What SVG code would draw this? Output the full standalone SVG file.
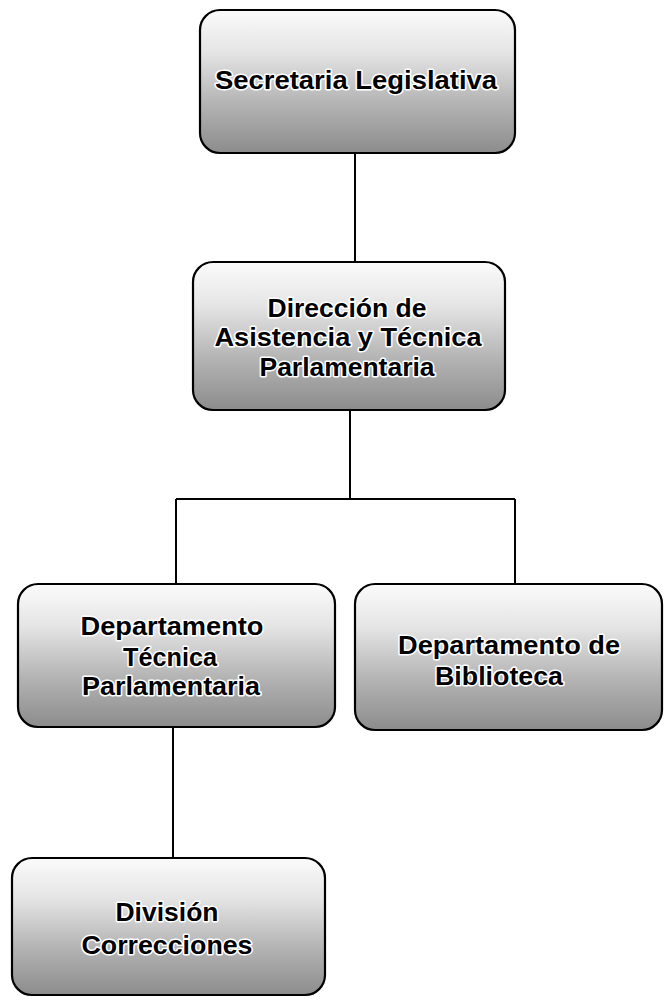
<svg xmlns="http://www.w3.org/2000/svg" width="664" height="1003" viewBox="0 0 664 1003">
<style>
.box{fill:url(#g);stroke:#000;stroke-width:2.2}
.t{font-family:"Liberation Sans",Arial,sans-serif;font-weight:bold;font-size:25px;fill:#000;text-anchor:middle;stroke:#fff;stroke-width:3;paint-order:stroke;stroke-linejoin:round}
.c{fill:none;stroke:#000;stroke-width:2}
</style>
<defs>
<linearGradient id="g" x1="0" y1="0" x2="0" y2="1">
<stop offset="0" stop-color="#fbfbfb"/>
<stop offset="0.3" stop-color="#e4e4e4"/>
<stop offset="0.65" stop-color="#b4b4b4"/>
<stop offset="1" stop-color="#8c8c8c"/>
</linearGradient>
</defs>
<rect width="664" height="1003" fill="#fff"/>
<g id="connectors">
<path class="c" d="M355 153V263"/>
<path class="c" d="M350 410V499"/>
<path class="c" d="M176 499H515"/>
<path class="c" d="M176 499V584"/>
<path class="c" d="M515 499V584"/>
<path class="c" d="M173 727V858"/>
</g>
<g id="secretaria">
<rect class="box" x="200" y="10" width="315" height="143" rx="20"/>
<text class="t" x="356" y="89" textLength="282" lengthAdjust="spacingAndGlyphs">Secretaria Legislativa</text>
</g>
<g id="direccion">
<rect class="box" x="193" y="262" width="312" height="148" rx="20"/>
<text class="t" x="347" y="317" textLength="159" lengthAdjust="spacingAndGlyphs">Dirección de</text>
<text class="t" x="348" y="346" textLength="267" lengthAdjust="spacingAndGlyphs">Asistencia y Técnica</text>
<text class="t" x="347" y="376" textLength="175" lengthAdjust="spacingAndGlyphs">Parlamentaria</text>
</g>
<g id="tecnica">
<rect class="box" x="18" y="584" width="317" height="143" rx="20"/>
<text class="t" x="172" y="635" textLength="183" lengthAdjust="spacingAndGlyphs">Departamento</text>
<text class="t" x="170" y="666" textLength="94" lengthAdjust="spacingAndGlyphs">Técnica</text>
<text class="t" x="171" y="695" textLength="178" lengthAdjust="spacingAndGlyphs">Parlamentaria</text>
</g>
<g id="biblioteca">
<rect class="box" x="355" y="584" width="307" height="146" rx="20"/>
<text class="t" x="509" y="654" textLength="222" lengthAdjust="spacingAndGlyphs">Departamento de</text>
<text class="t" x="499" y="685" textLength="128" lengthAdjust="spacingAndGlyphs">Biblioteca</text>
</g>
<g id="division">
<rect class="box" x="12" y="858" width="313" height="137" rx="20"/>
<text class="t" x="167" y="921" textLength="103" lengthAdjust="spacingAndGlyphs">División</text>
<text class="t" x="167" y="954" textLength="171" lengthAdjust="spacingAndGlyphs">Correcciones</text>
</g>
</svg>
